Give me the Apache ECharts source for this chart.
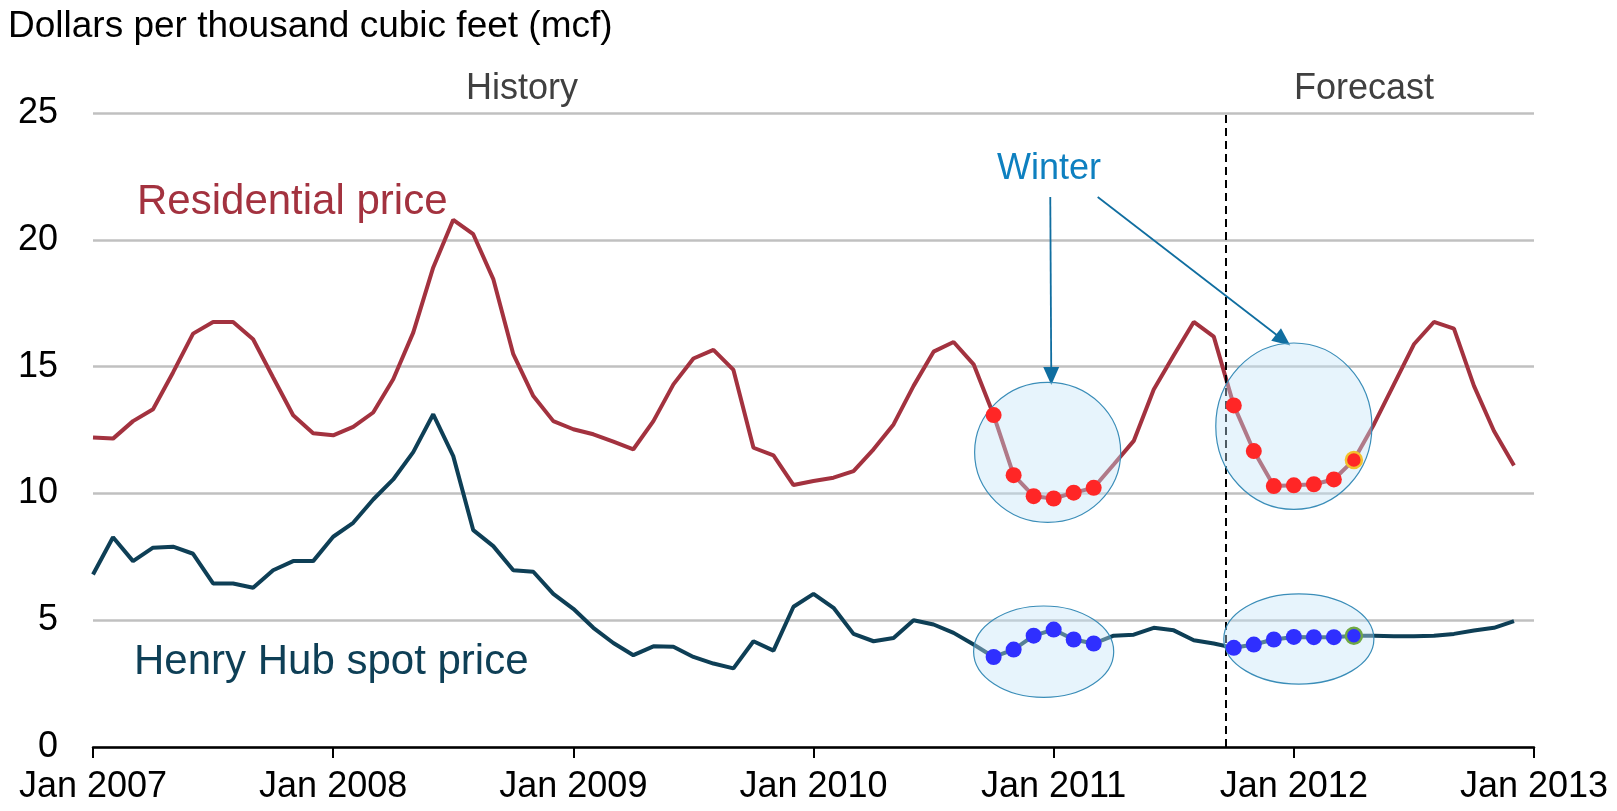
<!DOCTYPE html>
<html>
<head>
<meta charset="utf-8">
<script src="https://cdn.jsdelivr.net/npm/echarts@6/dist/echarts.min.js"></script>
<style>
  html, body { margin: 0; padding: 0; background: #fff; }
  #main { width: 1617px; height: 811px; }
</style>
</head>
<body>
<div id="main"></div>
<script>
// monthly values, Jan 2007 .. Dec 2012 (index 0 = Jan 2007)
var residential = [
  12.2, 12.16, 12.85, 13.32, 14.77, 16.3, 16.76, 16.76, 16.08, 14.57, 13.08, 12.37,
  12.29, 12.62, 13.19, 14.5, 16.34, 18.91, 20.79, 20.22, 18.45, 15.49, 13.84, 12.85,
  12.53, 12.33, 12.04, 11.74, 12.85, 14.3, 15.32, 15.66, 14.87, 11.8, 11.5, 10.33,
  10.49, 10.62, 10.88, 11.74, 12.72, 14.24, 15.59, 15.97, 15.09, 13.09, 10.72, 9.89,
  9.8, 10.03, 10.22, 11.14, 12.07, 14.1, 15.45, 16.76, 16.18, 13.47, 11.67, 10.29,
  10.32, 10.36, 10.55, 11.32, 12.72, 14.3, 15.88, 16.76, 16.5, 14.24, 12.46, 11.1
];
var henryHub = [
  6.8, 8.27, 7.33, 7.86, 7.9, 7.62, 6.45, 6.45, 6.28, 6.97, 7.33, 7.33,
  8.29, 8.84, 9.76, 10.55, 11.63, 13.12, 11.47, 8.55, 7.92, 6.97, 6.91, 6.04,
  5.45, 4.7, 4.1, 3.62, 3.97, 3.95, 3.55, 3.29, 3.1, 4.17, 3.8, 5.53,
  6.04, 5.49, 4.46, 4.17, 4.3, 5.0, 4.83, 4.5, 4.04, 3.55, 3.84, 4.39,
  4.63, 4.24, 4.08, 4.39, 4.43, 4.7, 4.6, 4.21, 4.08, 3.91, 4.04, 4.24,
  4.34, 4.33, 4.33, 4.39, 4.39, 4.37, 4.37, 4.39, 4.46, 4.59, 4.7, 4.96
];
var xTickLabels = ['Jan 2007', 'Jan 2008', 'Jan 2009', 'Jan 2010', 'Jan 2011', 'Jan 2012', 'Jan 2013'];
var yTicks = [0, 5, 10, 15, 20, 25];
// winter months highlighted (indices into the arrays above)
var winter1 = [45, 46, 47, 48, 49, 50];
var winter2 = [57, 58, 59, 60, 61, 62, 63];
var forecastStart = 56.6;

var FONT = '"Liberation Sans", Arial, sans-serif';
var RED = '#A3323F';
var TEAL = '#0E3F56';

function pts(arr) {
  return arr.map(function (v, i) { return [i, v]; });
}
function winterPts(arr, idx, lastBorder) {
  return idx.map(function (i, k) {
    var p = { value: [i, arr[i]] };
    if (k === idx.length - 1 && lastBorder) {
      p.itemStyle = { borderColor: lastBorder, borderWidth: 2.5 };
    }
    return p;
  });
}

var chart = echarts.init(document.getElementById('main'));

chart.setOption({
  animation: false,
  grid: { left: 93, right: 83, top: 113, bottom: 64 },
  xAxis: {
    type: 'value',
    min: 0,
    max: 72,
    interval: 12,
    axisLine: { show: true, onZero: false, lineStyle: { color: '#000', width: 2.5 } },
    axisTick: { show: true, length: 11, lineStyle: { color: '#000', width: 2 } },
    splitLine: { show: false },
    axisLabel: {
      margin: 22,
      fontSize: 36,
      fontFamily: FONT,
      color: '#000',
      formatter: function (v) { return xTickLabels[Math.round(v / 12)]; }
    }
  },
  yAxis: {
    type: 'value',
    min: yTicks[0],
    max: yTicks[yTicks.length - 1],
    interval: 5,
    axisLine: { show: false },
    axisTick: { show: false },
    splitLine: { lineStyle: { color: '#C0C0C0', width: 2.5 } },
    axisLabel: { margin: 35, fontSize: 36, fontFamily: FONT, color: '#000' }
  },
  series: [
    {
      name: 'Residential price',
      type: 'line',
      data: pts(residential),
      showSymbol: false,
      lineStyle: { color: RED, width: 4 },
      z: 2,
      markLine: {
        silent: true,
        symbol: ['none', 'none'],
        label: { show: false },
        data: [
          { xAxis: forecastStart, lineStyle: { type: [8, 5], color: '#000', width: 2 } },
          [
            { coord: [47.83, 21.69], symbol: 'none', lineStyle: { type: 'solid', color: '#106EA0', width: 1.8 } },
            { coord: [47.88, 14.63], symbol: 'triangle', symbolSize: [16, 18], itemStyle: { color: '#106EA0' } }
          ],
          [
            { coord: [50.2, 21.69], symbol: 'none', lineStyle: { type: 'solid', color: '#106EA0', width: 1.8 } },
            { coord: [59.47, 16.05], symbol: 'triangle', symbolSize: [16, 18], itemStyle: { color: '#106EA0' } }
          ]
        ]
      }
    },
    {
      name: 'Henry Hub spot price',
      type: 'line',
      data: pts(henryHub),
      showSymbol: false,
      lineStyle: { color: TEAL, width: 4 },
      z: 2
    },
    {
      type: 'scatter',
      data: winterPts(residential, winter1).concat(winterPts(residential, winter2, '#F2C12E')),
      symbolSize: 16,
      itemStyle: { color: '#FF2626', opacity: 1 },
      z: 10
    },
    {
      type: 'scatter',
      data: winterPts(henryHub, winter1).concat(winterPts(henryHub, winter2, '#6FA845')),
      symbolSize: 16,
      itemStyle: { color: '#2F2FFF', opacity: 1 },
      z: 10
    }
  ]
});

// winter ellipses, in data units: [centre month, centre value, radius months, radius value]
var ellipses = [
  [47.7, 11.62, 3.65, 2.76],
  [60.0, 12.65, 3.9, 3.28],
  [47.5, 3.76, 3.5, 1.8],
  [60.25, 4.26, 3.75, 1.78]
];

var g = ellipses.map(function (e) {
  var c = chart.convertToPixel({ gridIndex: 0 }, [e[0], e[1]]);
  var c2 = chart.convertToPixel({ gridIndex: 0 }, [e[0] + e[2], e[1] + e[3]]);
  return {
    type: 'ellipse',
    z: 5,
    silent: true,
    shape: { cx: c[0], cy: c[1], rx: Math.abs(c2[0] - c[0]), ry: Math.abs(c2[1] - c[1]) },
    style: { fill: 'rgba(195,228,248,0.4)', stroke: '#3A8DB8', lineWidth: 1.2 }
  };
});

function label(text, x, y, size, color, align) {
  return {
    type: 'text',
    z: 20,
    silent: true,
    x: x,
    y: y,
    style: {
      text: text,
      fill: color,
      font: size + 'px ' + FONT,
      textAlign: align || 'left',
      textVerticalAlign: 'middle'
    }
  };
}

g.push(label('Dollars per thousand cubic feet (mcf)', 8, 27, 37, '#000'));
g.push(label('History', 522, 89, 36, '#404040', 'center'));
g.push(label('Forecast', 1364, 89, 36, '#404040', 'center'));
g.push(label('Winter', 1049, 169, 36, '#0E80C0', 'center'));
g.push(label('Residential price', 137, 202, 42, RED));
g.push(label('Henry Hub spot price', 134, 662, 42, TEAL));

chart.setOption({ graphic: g });
</script>
</body>
</html>
